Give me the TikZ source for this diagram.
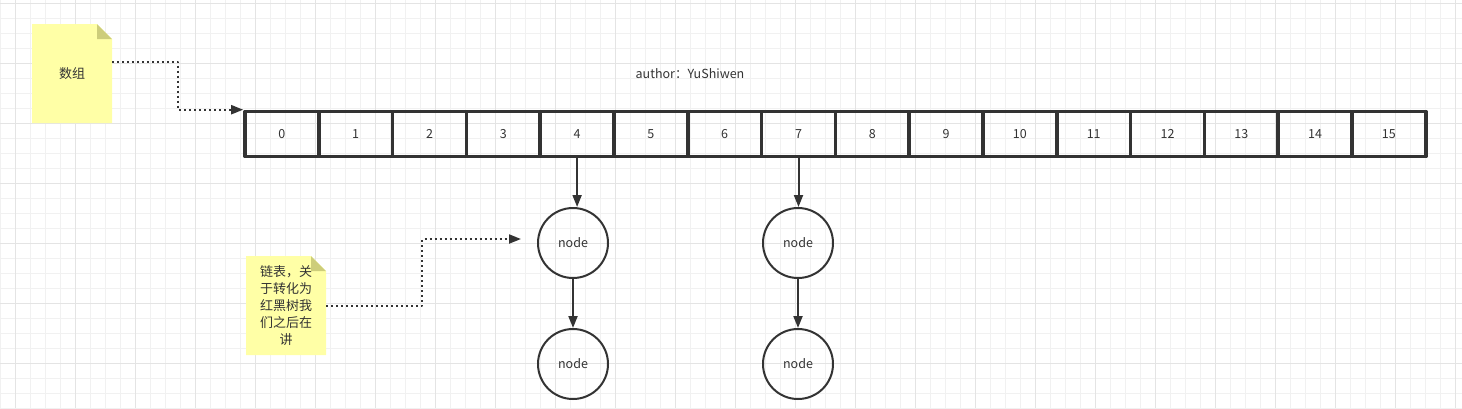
\documentclass[tikz,border=0pt]{standalone}
\usepackage{fontspec}
\setmainfont{Noto Sans CJK SC}
\usetikzlibrary{arrows.meta}
\definecolor{ink}{HTML}{333333}
\definecolor{memo}{HTML}{FFFFA6}
\definecolor{fold}{HTML}{CDCD7A}
\definecolor{gridlo}{HTML}{F1F1F1}
\definecolor{gridhi}{HTML}{E4E4E4}
\begin{document}
\begin{tikzpicture}[x=1pt, y=-1pt, font=\fontsize{12.5}{14}\selectfont, text=ink, line join=round, >={Triangle[length=12pt,width=9pt]},
    cell/.style={draw=ink, line width=3.6pt, minimum width=73.8pt, minimum height=45pt, inner sep=0pt},
    ball/.style={circle, draw=ink, line width=2pt, minimum size=70pt, inner sep=0pt},
    memotext/.style={minimum width=80pt, minimum height=99pt, inner sep=0pt, align=center, font=\fontsize{13}{17}\selectfont},
    link/.style={->, draw=ink, line width=2pt},
    hint/.style={->, draw=ink, line width=2pt, dash pattern=on 2pt off 3pt}]
    \useasboundingbox (0,0) rectangle (1462,408);
    % background grid
    \foreach \gx in {0,15,...,1455} \draw[gridlo, line width=1pt] (\gx,0) -- (\gx,408);
    \foreach \gy in {3,18,...,408} \draw[gridlo, line width=1pt] (0,\gy) -- (1462,\gy);
    \foreach \gx in {15,75,...,1455} \draw[gridhi, line width=1pt] (\gx,0) -- (\gx,408);
    \foreach \gy in {3,63,...,408} \draw[gridhi, line width=1pt] (0,\gy) -- (1462,\gy);
    % notes
    \foreach \mx/\my/\mname/\mtxt in {32/24/arr/数组, 246/256/lst/{链表，关\\于转化为\\红黑树我\\们之后在\\讲}} {
        \fill[memo] (\mx,\my) -- ++(65,0) -- ++(15,15) -- ++(0,84) -- ++(-80,0) -- cycle;
        \fill[fold] (\mx+65,\my) -- ++(15,15) -- ++(-15,0) -- cycle;
        \node[memotext] (\mname) at (\mx+40,\my+49.5) {\mtxt};
    }
    \node (author) at (690,74) {author：YuShiwen};
    % table
    \foreach \i in {0,...,15} \node[cell] (c\i) at (281.9+73.8*\i,134) {\i};
    % chains
    \foreach \k/\kx in {4/573, 7/798} {
        \node[ball] (head\k) at (\kx,243) {node};
        \node[ball] (tail\k) at (\kx,364) {node};
        \draw[link] (c\k.south) -- (c\k.south |- head\k.north);
        \draw[link] (head\k) -- (tail\k);
    }
    \draw[hint] ([yshift=12pt]arr.east) -- ++(66,0) |- (c0.north west);
    \draw[hint] (lst.east) -- ++(96,0) |- ([shift={(-16pt,4pt)}]head4.west);
\end{tikzpicture}
\end{document}
